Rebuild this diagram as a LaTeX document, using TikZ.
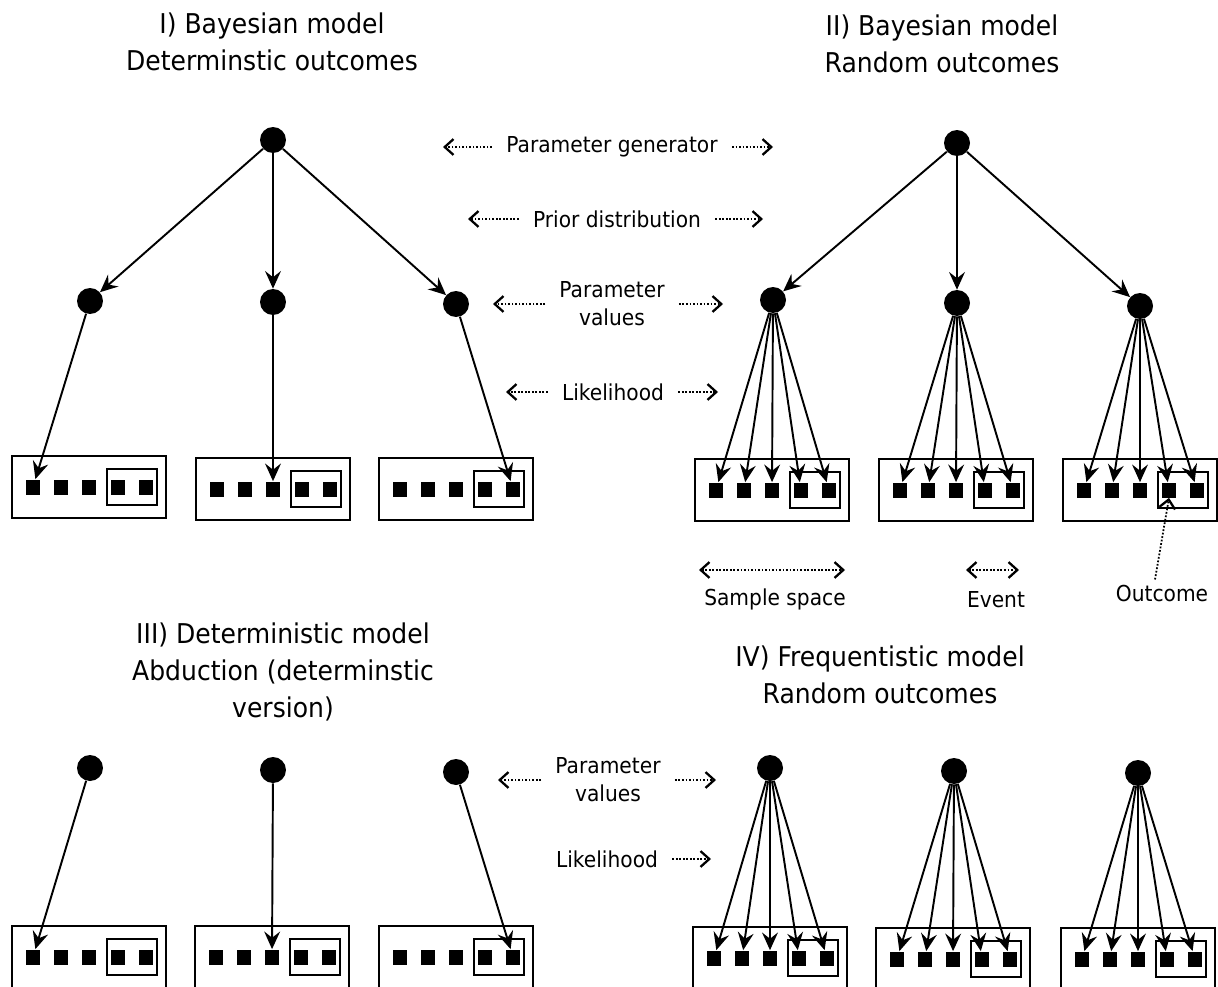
\documentclass[tikz,border=0pt]{standalone}
\usepackage{fontspec}
\setmainfont{DejaVu Sans}[FakeStretch=0.92]
\usetikzlibrary{arrows.meta}

\begin{document}
\begin{tikzpicture}[x=0.02cm, y=-0.02cm,
                        dot/.style={circle, fill=black, inner sep=0pt, minimum size=0.52cm},
                        elem/.style={rectangle, fill=black, inner sep=0pt, minimum width=0.28cm, minimum height=0.3cm},
                        sbox/.style={draw, line width=1.1pt, inner sep=0pt, minimum width=3.08cm, minimum height=1.24cm},
                        ebox/.style={draw, line width=1.1pt, inner sep=0pt, minimum width=1cm, minimum height=0.72cm},
                        title/.style={align=center, font=\fontsize{15.5}{21}\selectfont},
                        lbl/.style={align=center, inner xsep=8pt, font=\fontsize{12.5}{16}\selectfont},
                        arr/.style={line width=1.1pt, -{Stealth[length=10pt, width=9pt, inset=3.5pt]}},
                        dotarr/.style={densely dotted, line width=1pt, -{Straight Barb[length=5pt, width=9pt, line width=1.3pt]}},
                        dotboth/.style={densely dotted, line width=1pt, {Straight Barb[length=5pt, width=9pt, line width=1.3pt]}-{Straight Barb[length=5pt, width=9pt, line width=1.3pt]}}]
                        \useasboundingbox (0,0) rectangle (1218,987);

                        \node[title] (T1) at (272,42) {I) Bayesian model\\Determinstic outcomes};
                        \node[title] (T2) at (942,44) {II) Bayesian model\\Random outcomes};
                        \node[title] (T3) at (283,672) {III) Deterministic model\\Abduction (determinstic\\version)};
                        \node[title] (T4) at (880,675) {IV) Frequentistic model\\Random outcomes};

                        \node[dot] (A) at (273,140) {};
                        \node[dot] (A1) at (90,301) {};
                        \node[dot] (A2) at (273,302) {};
                        \node[dot] (A3) at (456,304) {};

                        \node[dot] (B) at (957,143) {};
                        \node[dot] (B1) at (773,300) {};
                        \node[dot] (B2) at (957,303) {};
                        \node[dot] (B3) at (1140,306) {};

                        \node[dot] (C1) at (90,768) {};
                        \node[dot] (C2) at (273,770) {};
                        \node[dot] (C3) at (456,772) {};

                        \node[dot] (D1) at (770,768) {};
                        \node[dot] (D2) at (954,771) {};
                        \node[dot] (D3) at (1138,773) {};

                        \foreach \b/\cx/\cy in {a1/89/487, a2/273/489, a3/456/489, b1/772/490, b2/956/490, b3/1140/490,
                                                c1/89/957, c2/272/957, c3/456/957, d1/770/958, d2/953/959, d3/1138/959} {
                            \node[sbox] (\b) at (\cx,\cy) {};
                            \node[ebox] (\b e) at (\cx+43,\cy) {};
                            \foreach \k/\dx in {1/-56, 2/-28, 3/0, 4/29, 5/57}
                                \node[elem] (\b\k) at (\cx+\dx,\cy) {};
                        }

                        \foreach \n in {1,2,3} {
                            \draw[arr] (A) -- (A\n);
                            \draw[arr] (B) -- (B\n);
                            \foreach \k in {1,...,5} {
                                \draw[arr] (B\n) -- (b\n\k);
                                \draw[arr] (D\n) -- (d\n\k);
                            }
                        }
                        \draw[arr] (A1) -- (a11);
                        \draw[arr] (A2) -- (a23);
                        \draw[arr] (A3) -- (a35);
                        \draw[arr] (C1) -- (c11);
                        \draw[arr] (C2) -- (c23);
                        \draw[arr] (C3) -- (c35);

                        \node[lbl] (PG) at (612,147) {Parameter generator};
                        \coordinate (PGl) at (443,147);
                        \coordinate (PGr) at (773,147);
                        \draw[dotarr] (PG.west) -- (PGl);
                        \draw[dotarr] (PG.east) -- (PGr);

                        \node[lbl] (PD) at (617,219) {Prior distribution};
                        \coordinate (PDl) at (468,219);
                        \coordinate (PDr) at (763,219);
                        \draw[dotarr] (PD.west) -- (PDl);
                        \draw[dotarr] (PD.east) -- (PDr);

                        \node[lbl] (PV) at (612,304) {Parameter\\values};
                        \coordinate (PVl) at (493,304);
                        \coordinate (PVr) at (723,304);
                        \draw[dotarr] (PV.west) -- (PVl);
                        \draw[dotarr] (PV.east) -- (PVr);

                        \node[lbl] (LH) at (613,392) {Likelihood};
                        \coordinate (LHl) at (506,392);
                        \coordinate (LHr) at (718,392);
                        \draw[dotarr] (LH.west) -- (LHl);
                        \draw[dotarr] (LH.east) -- (LHr);

                        \node[lbl] (PV2) at (608,780) {Parameter\\values};
                        \coordinate (PV2l) at (498,780);
                        \coordinate (PV2r) at (716,780);
                        \draw[dotarr] (PV2.west) -- (PV2l);
                        \draw[dotarr] (PV2.east) -- (PV2r);

                        \node[lbl] (LH2) at (607,859) {Likelihood};
                        \coordinate (LH2r) at (711,859);
                        \draw[dotarr] (LH2.east) -- (LH2r);

                        \coordinate (SSl) at (699,570);
                        \coordinate (SSr) at (845,570);
                        \draw[dotboth] (SSl) -- (SSr);
                        \node[lbl] (SS) at (775,599) {Sample space};

                        \coordinate (EVl) at (966,570);
                        \coordinate (EVr) at (1019,570);
                        \draw[dotboth] (EVl) -- (EVr);
                        \node[lbl] (EV) at (996,600) {Event};

                        \node[lbl] (OC) at (1162,594) {Outcome};
                        \draw[dotarr] ([xshift=-0.14cm]OC.north) -- (b34.south);
                    \end{tikzpicture}
\end{document}
